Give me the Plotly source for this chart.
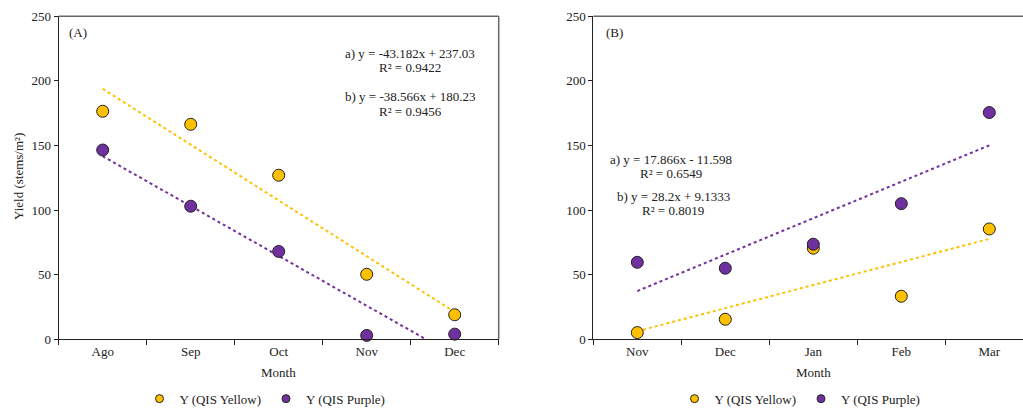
import plotly.graph_objects as go

W, H = 1023, 412

# Panel A data
months_a = ["Ago", "Sep", "Oct", "Nov", "Dec"]
yellow_a = [176.5, 166.4, 127.0, 50.3, 19.0]
purple_a = [146.5, 103.0, 68.0, 3.0, 4.0]
fit_yellow_a = (-43.182, 237.03)
fit_purple_a = (-38.566, 180.23)

# Panel B data
months_b = ["Nov", "Dec", "Jan", "Feb", "Mar"]
yellow_b = [5.2, 15.5, 70.5, 33.3, 85.4]
purple_b = [59.6, 55.0, 73.6, 105.0, 175.5]
fit_yellow_b = (17.866, -11.598)
fit_purple_b = (28.2, 9.1333)

y_ticks = [0, 50, 100, 150, 200, 250]

YEL = "#FFC000"
PUR = "#7030A0"
FONT = "Liberation Serif"
FS = 13


def trend(fit, n):
    m, b = fit
    return [m * i + b for i in range(1, n + 1)]


fig = go.Figure()


def add_panel(months, yel, pur, fy, fp, xa, ya, leg):
    ty = trend(fy, len(months))
    tp = trend(fp, len(months))
    fig.add_trace(go.Scatter(
        x=months, y=ty, mode="lines", line=dict(color=YEL, width=2, dash="dot"),
        showlegend=False, hoverinfo="skip", xaxis=xa, yaxis=ya))
    fig.add_trace(go.Scatter(
        x=months, y=tp, mode="lines", line=dict(color=PUR, width=2, dash="dot"),
        showlegend=False, hoverinfo="skip", xaxis=xa, yaxis=ya))
    for vals, col, name in [(yel, YEL, "Y (QIS Yellow)"), (pur, PUR, "Y (QIS Purple)")]:
        fig.add_trace(go.Scatter(
            x=months, y=vals, mode="markers", name=name, showlegend=False,
            marker=dict(color=col, size=12, line=dict(color="#222222", width=1)),
            xaxis=xa, yaxis=ya, cliponaxis=False))
    for col, name in [(YEL, "Y (QIS Yellow)"), (PUR, "Y (QIS Purple)")]:
        fig.add_trace(go.Scatter(
            x=[None], y=[None], mode="markers", name=name, showlegend=True,
            marker=dict(color=col, size=8, line=dict(color="#222222", width=1)),
            xaxis=xa, yaxis=ya, legend=leg))


add_panel(months_a, yellow_a, purple_a, fit_yellow_a, fit_purple_a, "x", "y", "legend")
add_panel(months_b, yellow_b, purple_b, fit_yellow_b, fit_purple_b, "x2", "y2", "legend2")

y_dom = [(H - 339.3) / H, (H - 16.3) / H]
xa_dom = [58.7 / W, 498.7 / W]
xb_dom = [593.3 / W, 1.0]

tickfont = dict(family=FONT, size=FS, color="#222222")

common_x = dict(type="category", tickson="boundaries", ticks="outside", ticklen=5,
                tickcolor="#222222", showline=True, linecolor="#222222", linewidth=1,
                showgrid=False, zeroline=False, tickfont=tickfont, fixedrange=True,
                categoryorder="array", automargin=False)
common_y = dict(range=[0, 250], tickvals=y_ticks, ticks="outside", ticklen=4,
                tickcolor="#222222", showline=True, linecolor="#222222", linewidth=1,
                showgrid=False, zeroline=False, tickfont=tickfont, fixedrange=True,
                automargin=False)

span_b = (W - 593.3) / 88.0

legend_common = dict(orientation="h", xanchor="center", y=(H - 398.7) / H,
                     yanchor="middle", font=dict(family=FONT, size=FS, color="#222222"),
                     itemwidth=30, bgcolor="rgba(0,0,0,0)", tracegroupgap=0)

fig.update_layout(
    width=W, height=H,
    margin=dict(l=0, r=0, t=0, b=0, pad=0, autoexpand=False),
    paper_bgcolor="white", plot_bgcolor="white",
    font=dict(family=FONT, size=FS, color="#222222"),
    xaxis=dict(domain=xa_dom, anchor="y", range=[-0.5, 4.5], categoryarray=months_a, **common_x),
    yaxis=dict(domain=y_dom, anchor="x", **common_y),
    xaxis2=dict(domain=xb_dom, anchor="y2", range=[-0.5, -0.5 + span_b],
                categoryarray=months_b, **common_x),
    yaxis2=dict(domain=y_dom, anchor="x2", **common_y),
    legend=dict(x=265 / W, **legend_common),
    legend2=dict(x=800 / W, **legend_common),
)

# Frame lines (top / right) in gray
fig.add_shape(type="line", xref="x domain", yref="y domain", x0=0, x1=1, y0=1, y1=1,
              line=dict(color="#666666", width=1.5))
fig.add_shape(type="line", xref="x domain", yref="y domain", x0=1, x1=1, y0=0, y1=1,
              line=dict(color="#666666", width=1.5))
fig.add_shape(type="line", xref="x2 domain", yref="y2 domain", x0=0, x1=1, y0=1, y1=1,
              line=dict(color="#666666", width=1.5))


def ann(x, y, text, size=FS, **kw):
    fig.add_annotation(x=x / W, y=(H - y) / H, xref="paper", yref="paper", text=text,
                       showarrow=False, font=dict(family=FONT, size=size, color="#222222"),
                       xanchor=kw.pop("xanchor", "center"), yanchor="middle", **kw)


ann(67, 33, "(A)", xanchor="left")
ann(604, 33, "(B)", xanchor="left")

ann(410, 53, "a) y = -43.182x + 237.03")
ann(410, 67.5, "R² = 0.9422")
ann(410, 96, "b) y = -38.566x + 180.23")
ann(410, 111, "R² = 0.9456")

ann(671, 159, "a) y = 17.866x - 11.598")
ann(671, 173.5, "R² = 0.6549")
ann(673, 196, "b) y = 28.2x + 9.1333")
ann(673, 210.5, "R² = 0.8019")

ann(278.7, 372, "Month")
ann(813, 372, "Month")
ann(18, 177, "Yield (stems/m²)", textangle=-90)

fig.write_html("out.html")
